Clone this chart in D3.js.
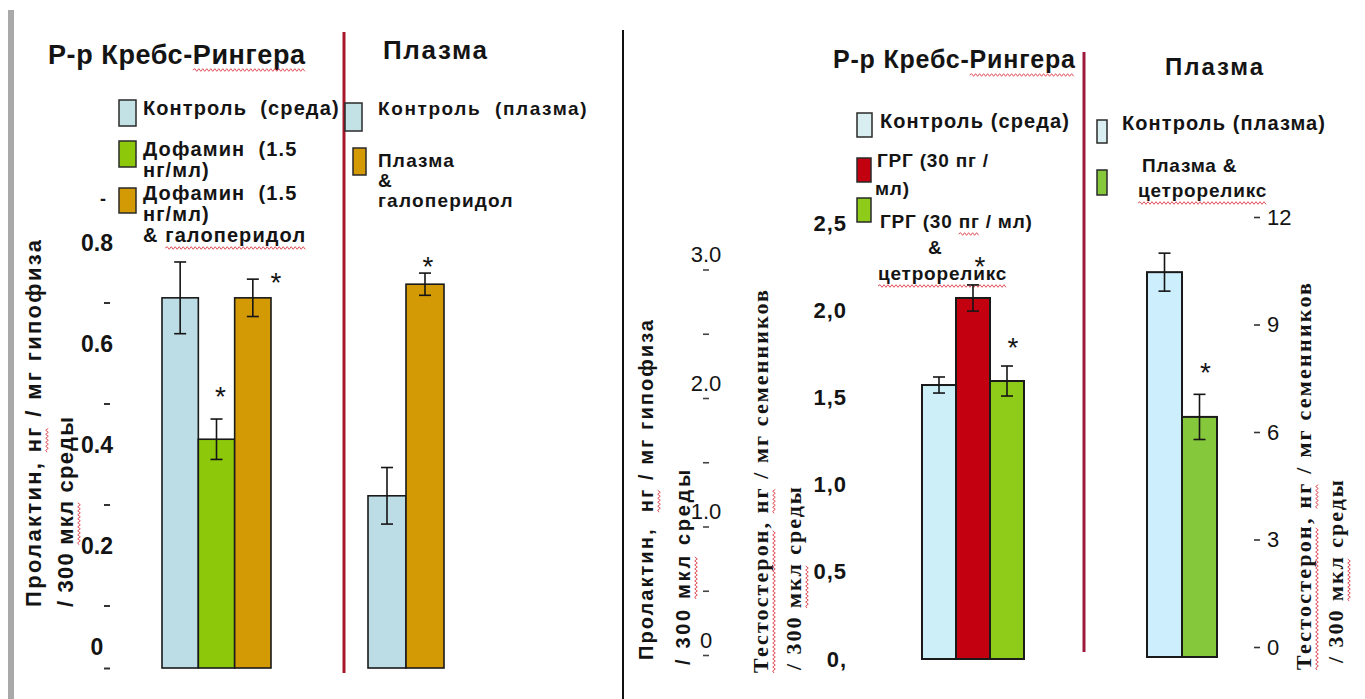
<!DOCTYPE html>
<html>
<head>
<meta charset="utf-8">
<script src="https://cdn.jsdelivr.net/npm/d3@7/dist/d3.min.js"></script>
<style>
body { margin: 0; background: #fff; }
text { font-family: "Liberation Sans", Arial, sans-serif; fill: #141414; }
.serif { font-family: "Liberation Serif", "Times New Roman", serif; }
</style>
</head>
<body>
<svg id="chart" width="1365" height="699"></svg>
<script>
// ---- left figure: prolactin ----
var prlKrebsNames = ["Контроль (среда)", "Дофамин (1.5 нг/мл)", "Дофамин (1.5 нг/мл) & галоперидол"];
var prlKrebsValues = [0.733, 0.453, 0.733];
var prlKrebsErr = [0.071, 0.040, 0.037];
var prlKrebsStar = [false, true, true];
var prlPlasmaNames = ["Контроль (плазма)", "Плазма & галоперидол"];
var prlPlasmaValues = [0.341, 0.760];
var prlPlasmaErr = [0.056, 0.022];
var prlPlasmaStar = [false, true];
var prlTicks = [0, 0.2, 0.4, 0.6, 0.8];
var prlMinorTicks = [0.1, 0.3, 0.5, 0.7];

// ---- right figure: testosterone ----
var tstKrebsNames = ["Контроль (среда)", "ГРГ (30 пг / мл)", "ГРГ (30 пг / мл) & цетрореликс"];
var tstKrebsValues = [1.571, 2.070, 1.594];
var tstKrebsErr = [0.046, 0.075, 0.086];
var tstKrebsStar = [false, true, true];
var tstPlasmaNames = ["Контроль (плазма)", "Плазма & цетрореликс"];
var tstPlasmaValues = [10.74, 6.70];
var tstPlasmaErr = [0.53, 0.63];
var tstPlasmaStar = [false, true];
var prl2Ticks = [0, 1, 2, 3];
var prl2MinorTicks = [0, 0.5, 1, 1.5, 2, 2.5, 3];
var tstTicks = [0, 0.5, 1, 1.5, 2, 2.5];
var tstTickLabels = ["0,", "0,5", "1,0", "1,5", "2,0", "2,5"];
var tst2Ticks = [0, 3, 6, 9, 12];

var svg = d3.select("#chart");

// frame lines
svg.append("rect").attr("x", 8).attr("y", 10).attr("width", 6).attr("height", 689).attr("fill", "#a9a9a9");
svg.append("line").attr("x1", 623).attr("x2", 623).attr("y1", 30).attr("y2", 699)
  .attr("stroke", "#111").attr("stroke-width", 2);

// red spell-check wave under a word of a text element
function squiggle(parent, textSel, word, dy) {
  var node = textSel.node();
  var s = node.textContent;
  var from = s.indexOf(word);
  if (from < 0) return;
  var n = node.getNumberOfChars();
  var to = Math.min(from + word.length - 1, n - 1);
  var p0 = node.getStartPositionOfChar(from);
  var p1 = node.getEndPositionOfChar(to);
  var d = "M" + p0.x + "," + (p0.y + dy);
  var up = true;
  for (var x = p0.x + 2; x <= p1.x; x += 2) {
    d += "L" + x + "," + (p0.y + dy + (up ? -1.3 : 1.3));
    up = !up;
  }
  parent.append("path").attr("d", d).attr("fill", "none")
    .attr("stroke", "#e0505a").attr("stroke-width", 1);
}

function multiText(g, lines, x, y, lh, size, ls, weight) {
  var t = g.append("text").attr("font-size", size).attr("font-weight", weight || "bold")
    .attr("letter-spacing", ls || 0);
  lines.forEach(function(l, i) {
    t.append("tspan").attr("x", l.x != null ? l.x : x).attr("y", y + i * lh).text(l.t != null ? l.t : l);
  });
  return t;
}

// starPos: offset of each asterisk centre from the top of its error bar
function bars(g, values, errs, stars, starPos, colors, x0, x1, y, sw) {
  var x = d3.scaleBand().domain(d3.range(values.length)).range([x0, x1]);
  var base = y(0);
  g.selectAll(null).data(values).enter().append("rect")
    .attr("x", function(d, i) { return x(i); })
    .attr("y", function(d) { return y(d); })
    .attr("width", x.bandwidth())
    .attr("height", function(d) { return base - y(d); })
    .attr("fill", function(d, i) { return colors[i]; })
    .attr("stroke", "#1a1a1a").attr("stroke-width", sw);
  values.forEach(function(v, i) {
    var cx = x(i) + x.bandwidth() / 2;
    var top = y(v + errs[i]);
    var e = g.append("g").attr("stroke", "#151515").attr("stroke-width", 1.6);
    e.append("line").attr("x1", cx).attr("x2", cx).attr("y1", top).attr("y2", y(v - errs[i]));
    e.append("line").attr("x1", cx - 6).attr("x2", cx + 6).attr("y1", top).attr("y2", top);
    e.append("line").attr("x1", cx - 6).attr("x2", cx + 6).attr("y1", y(v - errs[i])).attr("y2", y(v - errs[i]));
    if (stars[i]) {
      g.append("text").attr("x", cx + starPos[i][0]).attr("y", top + starPos[i][1] + 16)
        .attr("font-size", 28).attr("text-anchor", "middle").text("*");
    }
  });
  return x;
}

function legendBox(g, x, y, w, h, fill) {
  g.append("rect").attr("x", x).attr("y", y).attr("width", w).attr("height", h)
    .attr("fill", fill).attr("stroke", "#2a2a2a").attr("stroke-width", 1.5);
}

function clean(ax) { ax.select(".domain").remove(); }

var SP2 = "\u00a0 ";

// ================= LEFT =================
var L = svg.append("g");
var yL = d3.scaleLinear().domain([0, 0.8]).range([668, 264]);

var t1 = L.append("text").attr("x", 48).attr("y", 64).attr("font-size", 27).attr("font-weight", "bold")
  .attr("textLength", 257).text("Р-р Кребс-Рингера");
squiggle(L, t1, "Рингера", 6);
L.append("text").attr("x", 383).attr("y", 59).attr("font-size", 26).attr("font-weight", "bold")
  .attr("textLength", 104).text("Плазма");
L.append("line").attr("x1", 344).attr("x2", 344).attr("y1", 32).attr("y2", 673)
  .attr("stroke", "#a8182a").attr("stroke-width", 3);

// legend, Krebs-Ringer
var lKrebsColors = ["#bcdde6", "#8dc80a", "#d49a06"];
legendBox(L, 119, 100, 17, 26, "#c2e2e6");
legendBox(L, 119, 141, 17, 26, lKrebsColors[1]);
legendBox(L, 119, 188, 17, 25, lKrebsColors[2]);
multiText(L, ["Контроль" + SP2 + "(среда)"], 143, 115, 0, 20, 1.1);
multiText(L, ["Дофамин" + SP2 + "(1.5", "нг/мл)"], 143, 156, 21, 20, 1.1);
var lt3 = multiText(L, ["Дофамин" + SP2 + "(1.5", "нг/мл)", "& галоперидол"], 143, 200, 21, 20, 1.1);
squiggle(L, lt3, "галоперидол", 6);
L.append("text").attr("x", 100).attr("y", 205).attr("font-size", 18).attr("font-weight", "bold").text("-");
// legend, plasma
legendBox(L, 345, 103, 17, 28, "#c2e2e6");
legendBox(L, 353, 148, 13, 27, lKrebsColors[2]);
multiText(L, ["Контроль" + SP2 + "(плазма)"], 378, 115, 0, 19, 1.6);
multiText(L, ["Плазма", "&", "галоперидол"], 378, 167, 20, 19, 1.2);

// axis labels & dashes
var axL = L.append("g").attr("transform", "translate(97,-21)")
  .call(d3.axisLeft(yL).tickValues(prlTicks).tickSize(0).tickFormat(function(d) { return d === 0 ? "0" : d3.format(".1f")(d); }));
clean(axL);
axL.selectAll("text").attr("x", 0).attr("text-anchor", "middle").attr("font-size", 23)
  .attr("font-weight", "bold").attr("fill", "#2a2a2a");
var dashL = L.append("g").attr("transform", "translate(110,-12)")
  .call(d3.axisLeft(yL).tickValues(prlMinorTicks).tickSize(6).tickFormat(""));
clean(dashL);
var dashL0 = L.append("g").attr("transform", "translate(110,0)")
  .call(d3.axisLeft(yL).tickValues([0]).tickSize(6).tickFormat(""));
clean(dashL0);
L.selectAll(".tick line").attr("stroke", "#333").attr("stroke-width", 2);

// axis title
var gtL = L.append("g").attr("transform", "rotate(-90)");
var at1 = gtL.append("text").attr("x", -607).attr("y", 41).attr("font-size", 22).attr("font-weight", "bold")
  .attr("textLength", 367).text("Пролактин, нг / мг гипофиза");
squiggle(gtL, at1, "нг", 6);
var at2 = gtL.append("text").attr("x", -607).attr("y", 73).attr("font-size", 22).attr("font-weight", "bold")
  .attr("textLength", 190).text("/ 300 мкл среды");
squiggle(gtL, at2, "мкл", 6);

bars(L, prlKrebsValues, prlKrebsErr, prlKrebsStar, [[0, 0], [4, -29], [23, -3]],
  lKrebsColors, 162, 271, yL, 1.6);
bars(L, prlPlasmaValues, prlPlasmaErr, prlPlasmaStar, [[0, 0], [3, -13]],
  ["#bcdde6", "#d49a06"], 368, 444, yL, 1.6);

// ================= RIGHT =================
var R = svg.append("g");
var yP = d3.scaleLinear().domain([0, 3]).range([655, 269.5]);
var yT = d3.scaleLinear().domain([0, 2.5]).range([659, 223]);
var yT2 = d3.scaleLinear().domain([0, 12]).range([657, 227]);

var t2 = R.append("text").attr("x", 833).attr("y", 68).attr("font-size", 25).attr("font-weight", "bold")
  .attr("textLength", 242).text("Р-р Кребс-Рингера");
squiggle(R, t2, "Рингера", 7);
R.append("text").attr("x", 1165).attr("y", 75).attr("font-size", 24).attr("font-weight", "bold")
  .attr("textLength", 98).attr("fill", "#222").text("Плазма");
R.append("line").attr("x1", 1084).attr("x2", 1084).attr("y1", 52).attr("y2", 652)
  .attr("stroke", "#9e1a3c").attr("stroke-width", 3);

var rKrebsColors = ["#cdf0f8", "#c30010", "#8fcc1a"];
legendBox(R, 857, 113, 15, 24, "#d8eef0");
legendBox(R, 857, 158, 14, 24, rKrebsColors[1]);
legendBox(R, 857, 198, 14, 24, rKrebsColors[2]);
multiText(R, [tstKrebsNames[0]], 880, 128, 0, 20, 1.1);
multiText(R, ["ГРГ (30 пг /", {t: "мл)", x: 875}], 877, 167, 28, 19, 0.8);
var rt3 = multiText(R, ["ГРГ (30 пг / мл)", {t: "&", x: 928}, {t: "цетрореликс", x: 878}], 880, 228, 26, 19, 0.8);
squiggle(R, rt3, "пг", 6);
squiggle(R, rt3, "цетрореликс", 6);
legendBox(R, 1097, 120, 10, 23, "#d8eef0");
legendBox(R, 1097, 170, 10, 25, "#86c83c");
multiText(R, [tstPlasmaNames[0]], 1122, 130, 0, 20, 1.1);
var rp2 = multiText(R, [{t: "Плазма &", x: 1142}, {t: "цетрореликс", x: 1138}], 1140, 172, 25, 19, 0.8);
squiggle(R, rp2, "цетрореликс", 6);

// prolactin axis (left)
var axP = R.append("g").attr("transform", "translate(706,-15)")
  .call(d3.axisLeft(yP).tickValues(prl2Ticks).tickSize(0).tickFormat(function(d) { return d === 0 ? "0" : d3.format(".1f")(d); }));
clean(axP);
axP.selectAll("text").attr("x", 0).attr("text-anchor", "middle").attr("font-size", 22).attr("fill", "#111");
var dashP = R.append("g").attr("transform", "translate(709,0)")
  .call(d3.axisLeft(yP).tickValues(prl2MinorTicks).tickSize(6).tickFormat(""));
clean(dashP);
dashP.selectAll(".tick line").attr("stroke", "#444").attr("stroke-width", 1.6);

// testosterone axis (middle)
var axT = R.append("g").attr("transform", "translate(847,0)")
  .call(d3.axisLeft(yT).tickValues(tstTicks).tickSize(0).tickPadding(0)
    .tickFormat(function(d, i) { return tstTickLabels[i]; }));
clean(axT);
axT.selectAll("text").attr("font-size", 22).attr("font-weight", "bold").attr("letter-spacing", 1).attr("fill", "#1e1e1e");

// testosterone axis (right)
var axT2 = R.append("g").attr("transform", "translate(1267,-10)")
  .call(d3.axisRight(yT2).tickValues(tst2Ticks).tickSize(0).tickPadding(0));
clean(axT2);
axT2.selectAll("text").attr("font-size", 22).attr("fill", "#1e1e1e");
var dashT2 = R.append("g").attr("transform", "translate(1254,-10)")
  .call(d3.axisRight(yT2).tickValues(tst2Ticks).tickSize(6).tickFormat(""));
clean(dashT2);
dashT2.selectAll(".tick line").attr("stroke", "#333").attr("stroke-width", 1.6);

// rotated axis titles
var gtR = R.append("g").attr("transform", "rotate(-90)");
var r1 = gtR.append("text").attr("x", -660).attr("y", 653).attr("font-size", 20).attr("font-weight", "bold")
  .attr("textLength", 340).text("Пролактин," + SP2 + "нг / мг гипофиза");
squiggle(gtR, r1, "нг", 6);
var r2 = gtR.append("text").attr("x", -665).attr("y", 690).attr("font-size", 20).attr("font-weight", "bold")
  .attr("textLength", 195).text("/ 300 мкл среды");
squiggle(gtR, r2, "мкл", 6);
var r3 = gtR.append("text").attr("class", "serif").attr("x", -673).attr("y", 768).attr("font-size", 22).attr("font-weight", "bold")
  .attr("textLength", 383).text("Тестостерон, нг / мг семенников");
squiggle(gtR, r3, "Тестостерон", 6);
squiggle(gtR, r3, "нг", 6);
var r4 = gtR.append("text").attr("class", "serif").attr("x", -670).attr("y", 801).attr("font-size", 22).attr("font-weight", "bold")
  .attr("textLength", 183).text("/ 300 мкл среды");
squiggle(gtR, r4, "мкл", 6);
var r5 = gtR.append("text").attr("class", "serif").attr("x", -670).attr("y", 1311).attr("font-size", 22).attr("font-weight", "bold")
  .attr("textLength", 387).text("Тестостерон, нг / мг семенников");
squiggle(gtR, r5, "Тестостерон", 6);
squiggle(gtR, r5, "нг", 6);
var r6 = gtR.append("text").attr("class", "serif").attr("x", -663).attr("y", 1343).attr("font-size", 22).attr("font-weight", "bold")
  .attr("textLength", 183).text("/ 300 мкл среды");
squiggle(gtR, r6, "мкл", 6);

bars(R, tstKrebsValues, tstKrebsErr, tstKrebsStar, [[0, 0], [7, -25], [6, -25]],
  rKrebsColors, 922, 1024, yT, 2);
bars(R, tstPlasmaValues, tstPlasmaErr, tstPlasmaStar, [[0, 0], [6, -28]],
  ["#cdeefc", "#86c83c"], 1147, 1217, yT2, 2);
</script>
</body>
</html>
